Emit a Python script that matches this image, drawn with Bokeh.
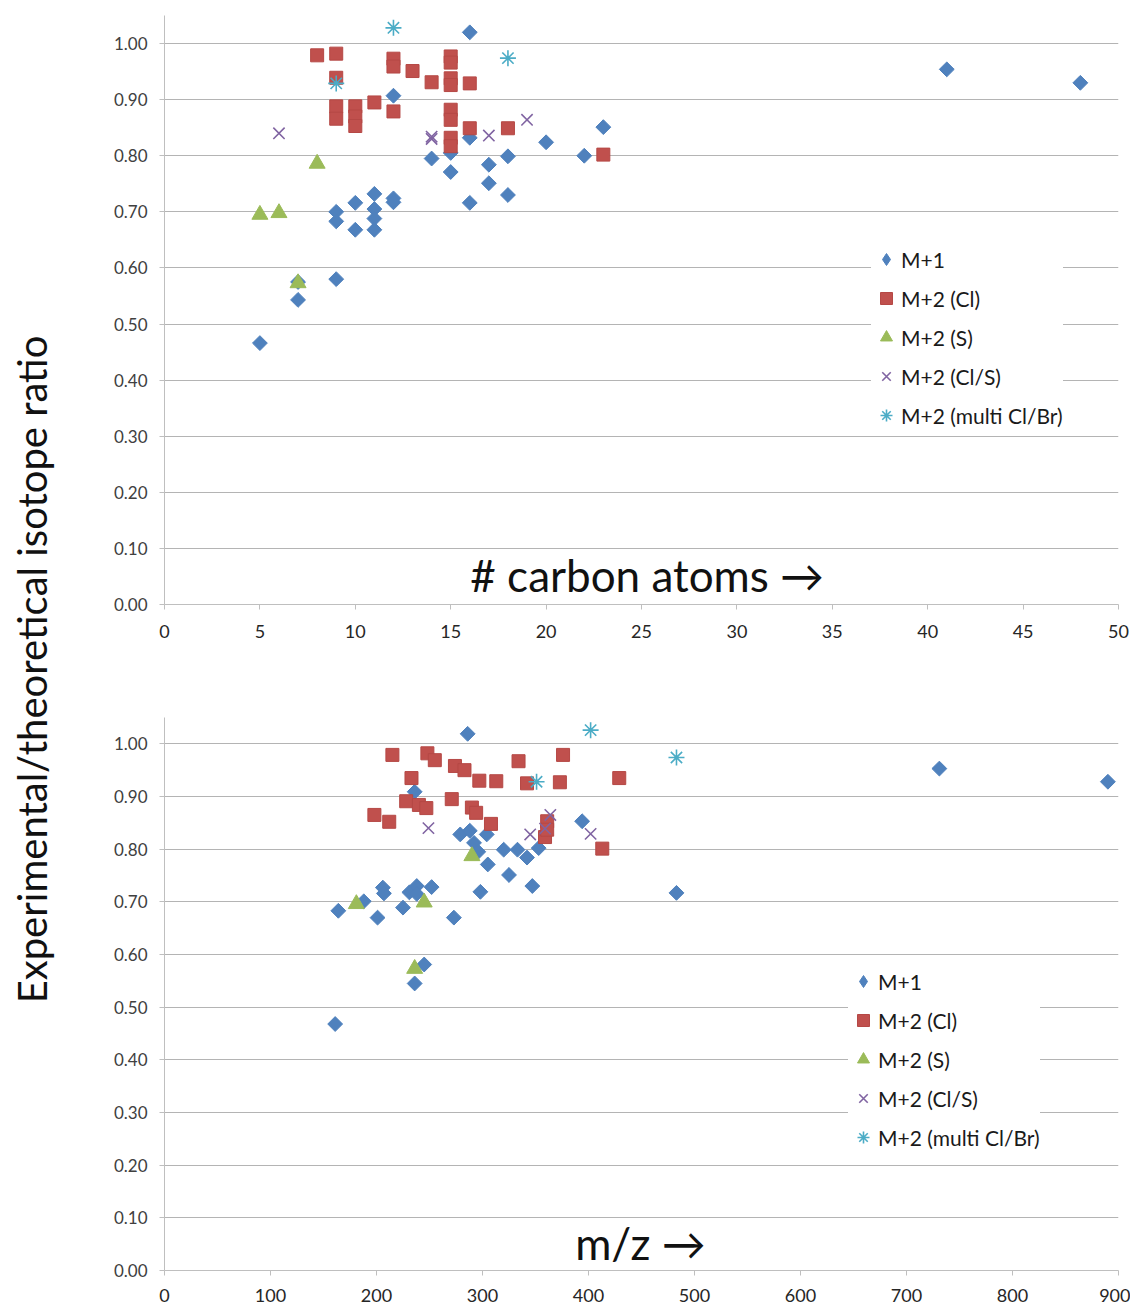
from math import pi
from bokeh.plotting import figure
from bokeh.layouts import row, column
from bokeh.models import Label, Range1d, FixedTicker, PrintfTickFormatter
from bokeh.embed import file_html
from bokeh.resources import INLINE

FONT = "Lato"

# ---------------- data: top chart (# carbon atoms) ----------------
c_m1_x = [5, 7, 7, 9, 9, 9, 10, 10, 11, 11, 11, 11, 12, 12, 12, 14, 15, 15, 16, 16, 16,
          17, 17, 18, 18, 20, 22, 23, 41, 48]
c_m1_y = [0.466, 0.543, 0.575, 0.580, 0.700, 0.683, 0.716, 0.668, 0.732, 0.705, 0.688, 0.668,
          0.724, 0.717, 0.907, 0.795, 0.771, 0.805, 1.020, 0.832, 0.716, 0.784, 0.751, 0.799,
          0.730, 0.824, 0.800, 0.851, 0.954, 0.930]
c_cl_x = [8, 9, 9, 9, 9, 10, 10, 10, 11, 12, 12, 12, 13, 14, 15, 15, 15, 15, 15, 15, 15, 15,
          16, 16, 18, 23]
c_cl_y = [0.979, 0.982, 0.939, 0.888, 0.866, 0.888, 0.870, 0.853, 0.895, 0.973, 0.959, 0.879,
          0.951, 0.931, 0.977, 0.966, 0.938, 0.926, 0.882, 0.864, 0.832, 0.817, 0.929, 0.849,
          0.849, 0.802]
c_s_x = [5, 6, 7, 8]
c_s_y = [0.695, 0.698, 0.573, 0.786]
c_cls_x = [6, 14, 14, 17, 19]
c_cls_y = [0.840, 0.830, 0.834, 0.836, 0.864]
c_multi_x = [9, 12, 18]
c_multi_y = [0.929, 1.028, 0.974]

# ---------------- data: bottom chart (m/z) ----------------
mz_m1_x = [161, 164, 188, 201, 206, 207, 225, 231, 236, 236, 238, 238, 245, 252, 273, 279,
           286, 288, 292, 296, 298, 304, 305, 320, 325, 333, 342, 347, 353, 394, 483, 731, 890]
mz_m1_y = [0.468, 0.683, 0.701, 0.670, 0.727, 0.716, 0.689, 0.718, 0.545, 0.909, 0.730, 0.715,
           0.581, 0.728, 0.670, 0.828, 1.019, 0.835, 0.812, 0.795, 0.719, 0.828, 0.771, 0.799,
           0.751, 0.799, 0.784, 0.730, 0.802, 0.853, 0.717, 0.953, 0.928]
mz_cl_x = [198, 212, 215, 228, 233, 240, 247, 248, 255, 271, 274, 283, 290, 294, 297, 308,
           313, 334, 342, 359, 361, 361, 373, 376, 413, 429]
mz_cl_y = [0.865, 0.852, 0.979, 0.891, 0.935, 0.884, 0.878, 0.982, 0.969, 0.895, 0.958, 0.950,
           0.879, 0.869, 0.930, 0.848, 0.929, 0.967, 0.925, 0.823, 0.853, 0.837, 0.927, 0.979,
           0.801, 0.935]
mz_s_x = [181, 236, 245, 290]
mz_s_y = [0.696, 0.573, 0.699, 0.787]
mz_cls_x = [249, 345, 359, 364, 402]
mz_cls_y = [0.840, 0.828, 0.839, 0.865, 0.829]
mz_multi_x = [351, 402, 483]
mz_multi_y = [0.928, 1.026, 0.974]

y_ticks = [0.0, 0.1, 0.2, 0.3, 0.4, 0.5, 0.6, 0.7, 0.8, 0.9, 1.0]
c_ticks = [0, 5, 10, 15, 20, 25, 30, 35, 40, 45, 50]
mz_ticks = [0, 100, 200, 300, 400, 500, 600, 700, 800, 900]

series_names = ["M+1", "M+2 (Cl)", "M+2 (S)", "M+2 (Cl/S)", "M+2 (multi Cl/Br)"]
y_label_text = "Experimental/theoretical isotope ratio"

BLUE = "#4F81BD"
RED = "#C0504D"
GREEN = "#9BBB59"
PURPLE = "#8064A2"
CYAN = "#4BACC6"
GRID = "#B4B4B4"


def build(width, height, mb_top, mb_bottom, x_end, x_ticks, data,
          title_text, title_x, title_y, legend_xy, x_standoff):
    p = figure(width=width, height=height, output_backend="svg", toolbar_location=None,
               x_range=Range1d(0, x_end), y_range=Range1d(0, 1.05),
               min_border_left=104, min_border_right=12,
               min_border_top=mb_top, min_border_bottom=mb_bottom)
    p.outline_line_color = None
    p.xgrid.grid_line_color = None
    p.ygrid.grid_line_color = GRID
    p.ygrid.ticker = FixedTicker(ticks=y_ticks)
    p.yaxis.ticker = FixedTicker(ticks=y_ticks)
    p.xaxis.ticker = FixedTicker(ticks=x_ticks)
    p.yaxis.formatter = PrintfTickFormatter(format="%.2f")
    for ax in (p.xaxis[0], p.yaxis[0]):
        ax.axis_line_color = "#BFBFBF"
        ax.major_tick_line_color = "#BFBFBF"
        ax.major_tick_out = 5
        ax.major_tick_in = 0
        ax.minor_tick_line_color = None
        ax.major_label_text_font = FONT
    p.yaxis.major_label_text_font_size = "17px"
    p.yaxis.major_label_text_color = "#404040"
    p.yaxis.major_label_standoff = 12
    p.xaxis.major_label_text_font_size = "18px"
    p.xaxis.major_label_text_color = "#262626"
    p.xaxis.major_label_standoff = x_standoff

    (m1x, m1y), (clx, cly), (sx, sy), (clsx, clsy), (mx, my) = data
    # hidden renderer that only supplies the legend glyph (legend glyphs ignore marker angle)
    p.scatter(m1x[:1], m1y[:1], marker="diamond", size=12, fill_color=BLUE, line_color=BLUE,
              legend_label=series_names[0], visible=False)
    p.scatter(m1x, m1y, marker="square", angle=pi / 4, size=10.5, fill_color=BLUE,
              line_color=BLUE)
    p.scatter(clx, cly, marker="square", size=13, fill_color=RED, line_color="#B54845",
              legend_label=series_names[1])
    p.scatter(sx, sy, marker="triangle", size=16, fill_color=GREEN, line_color=GREEN,
              legend_label=series_names[2])
    p.scatter(clsx, clsy, marker="x", size=16, line_color=PURPLE, line_width=1.6,
              legend_label=series_names[3])
    p.scatter(mx, my, marker="asterisk", size=16, line_color=CYAN, line_width=1.6,
              legend_label=series_names[4])

    leg = p.legend[0]
    leg.location = legend_xy
    leg.background_fill_color = "white"
    leg.background_fill_alpha = 1.0
    leg.border_line_color = None
    leg.inactive_fill_alpha = 0.0
    leg.label_text_font = FONT
    leg.label_text_font_size = "21px"
    leg.label_text_color = "#1A1A1A"
    leg.glyph_width = 30
    leg.glyph_height = 30
    leg.label_height = 30
    leg.spacing = 9
    leg.padding = 0
    leg.margin = 0
    leg.label_standoff = -2

    p.add_layout(Label(x=title_x, y=title_y, text=title_text, text_font=FONT,
                       text_font_size="44px", text_align="center",
                       text_baseline="middle", text_color="#111111"))
    return p


top = build(1070, 680, 15, 76, 50, c_ticks,
            [(c_m1_x, c_m1_y), (c_cl_x, c_cl_y), (c_s_x, c_s_y), (c_cls_x, c_cls_y),
             (c_multi_x, c_multi_y)],
            "# carbon atoms \u2192", 25.3, 0.052, (707, 174), 15)

bottom = build(1070, 629, 37, 39, 900, mz_ticks,
               [(mz_m1_x, mz_m1_y), (mz_cl_x, mz_cl_y), (mz_s_x, mz_s_y),
                (mz_cls_x, mz_cls_y), (mz_multi_x, mz_multi_y)],
               "m/z \u2192", 449, 0.052, (684, 118), 13)

lab = figure(width=60, height=1309, output_backend="svg", toolbar_location=None,
             x_range=Range1d(0, 60), y_range=Range1d(0, 1309),
             x_axis_location=None, y_axis_location=None,
             min_border_left=0, min_border_right=0, min_border_top=0, min_border_bottom=0)
lab.outline_line_color = None
lab.grid.visible = False
lab.add_layout(Label(x=31, y=640, text=y_label_text, angle=pi / 2, text_font=FONT,
                     text_font_size="40px", text_align="center", text_baseline="middle",
                     text_color="#111111"))

layout = row(lab, column(top, bottom))

open("out.html", "w").write(file_html(layout, INLINE))
